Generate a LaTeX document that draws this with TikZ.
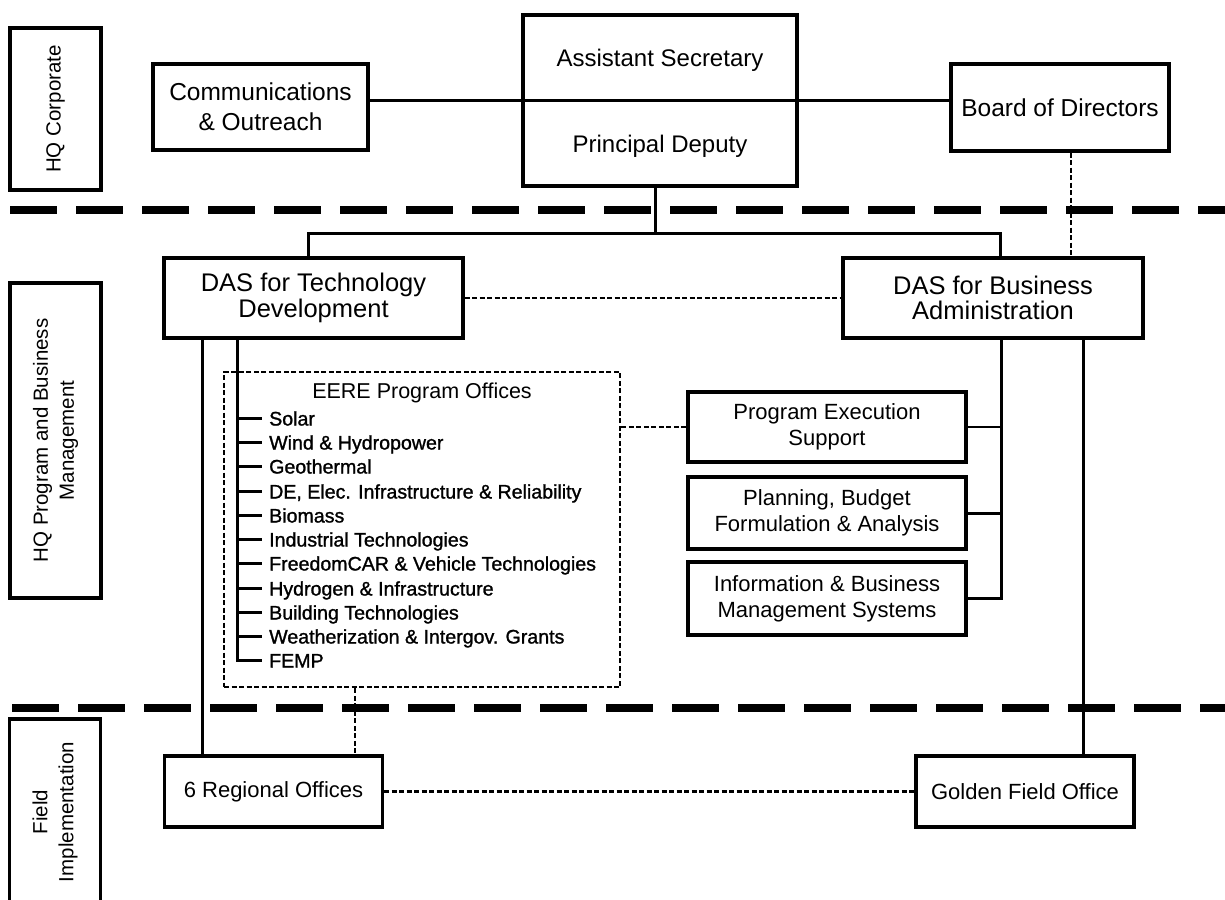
\documentclass[tikz,border=0pt]{standalone}
\usepackage{fontspec}
\setmainfont{Liberation Sans}
\newfontfamily\boldishfont[FakeBold=1.2]{Liberation Sans}
\begin{document}
\begin{tikzpicture}[x=1pt,y=-1pt,
  box/.style={draw, line width=3.4pt, inner sep=0pt, align=center, font=\fontsize{24}{27}\selectfont},
  rbox/.style={box, minimum width=278pt, font=\fontsize{22}{26}\selectfont},
  fbox/.style={box, minimum width=218pt, minimum height=71pt, font=\fontsize{22}{25}\selectfont},
  lbl/.style={draw, line width=3.4pt, inner sep=0pt, minimum width=91pt},
  lbltxt/.style={rotate=90, align=center, inner sep=0pt, font=\fontsize{20.5}{26}\selectfont},
  conn/.style={line width=3pt},
  thinconn/.style={line width=1.5pt},
  fine/.style={line width=2.5pt, dash pattern=on 5pt off 2.5pt},
  sepline/.style={line width=7.5pt, dash pattern=on 47pt off 19pt},
  item/.style={anchor=west, inner sep=0pt, text height=15pt, text depth=0pt, font=\boldishfont\fontsize{19.6}{24}\selectfont},
  plain/.style={inner sep=0pt, font=\fontsize{24}{26}\selectfont}
]
\useasboundingbox (0,0) rectangle (1225,899);

% separators
\draw[sepline] (10,210) -- (1225,210);
\draw[sepline] (12,708) -- (1225,708);

% left labels
\node[lbl, minimum height=162pt] (l1) at (55.5,109) {};
\node[lbltxt] (l1t) at (l1.center) {HQ Corporate};
\node[lbl, minimum height=315pt] (l2) at (55.5,440.5) {};
\node[lbltxt] (l2t) at (l2.center) {HQ Program and Business\\Management};
\node[lbl, minimum height=186pt] (l3) at (55,812) {};
\node[lbltxt] (l3t) at (l3.center) {Field\\Implementation};

% top row
\node[box, minimum width=215pt, minimum height=86pt, font=\fontsize{24.5}{30}\selectfont] (comm) at (260.5,107) {Communications\\\& Outreach};
\node[box, minimum width=274pt, minimum height=171pt] (as) at (660,100.5) {};
\node[plain] (ast) at (660,60) {Assistant Secretary};
\node[plain] (pd) at (660,146) {Principal Deputy};
\node[box, minimum width=218pt, minimum height=87pt, font=\fontsize{24.5}{27}\selectfont] (board) at (1060,107.5) {Board of Directors};

% DAS row
\node[box, minimum width=299pt, minimum height=80pt, font=\fontsize{25.5}{25.5}\selectfont] (tech) at (313.5,298) {DAS for Technology\\Development};
\node[box, minimum width=300pt, minimum height=80pt, font=\fontsize{25.5}{25.5}\selectfont] (bus) at (993,298) {DAS for Business\\Administration};

% right column
\node[rbox, minimum height=70pt] (pes) at (827,427) {Program Execution\\Support};
\node[rbox, minimum height=72pt] (pbfa) at (827,513) {Planning, Budget\\Formulation \& Analysis};
\node[rbox, minimum height=73pt] (ibms) at (827,598.5) {Information \& Business\\Management Systems};

% EERE box
\node[draw, fine, minimum width=396pt, minimum height=315pt, inner sep=0pt] (eere) at (422,529.5) {};
\node[inner sep=0pt, font=\fontsize{21.5}{24}\selectfont] (eeret) at (422,393) {EERE Program Offices};
\node[item] (i1) at (269,418) {Solar};
\node[item] (i2) at (269,442) {Wind \& Hydropower};
\node[item] (i3) at (269,466) {Geothermal};
\node[item] (i4) at (269,491) {DE, Elec. Infrastructure \& Reliability};
\node[item] (i5) at (269,515) {Biomass};
\node[item] (i6) at (269,539) {Industrial Technologies};
\node[item] (i7) at (269,563) {FreedomCAR \& Vehicle Technologies};
\node[item] (i8) at (269,588) {Hydrogen \& Infrastructure};
\node[item] (i9) at (269,612) {Building Technologies};
\node[item] (i10) at (269,636) {Weatherization \& Intergov. Grants};
\node[item] (i11) at (269,660) {FEMP};

% field row
\node[fbox] (reg) at (273.5,791.5) {6 Regional Offices};
\node[fbox] (golden) at (1025,791.5) {Golden Field Office};

% coordinates
\coordinate (j) at (655,233);
\coordinate (tj) at (308,233);
\coordinate (bj) at (1000,233);
\coordinate (bdx) at (1071,0);
\coordinate (tv1) at (202,0);
\coordinate (tv2) at (237,0);
\coordinate (bv1) at (1001,0);
\coordinate (bv2) at (1083,0);
\coordinate (ex) at (355,0);

% solid connectors
\draw[conn] (comm.east |- as.center) -- (board.west |- as.center);
\draw[conn] (as.south -| j) -- (j);
\draw[conn] (tech.north -| tj) -- (tj) -- (bj) -- (bus.north -| bj);
\draw[conn] (tech.south -| tv1) -- (reg.north -| tv1);
\draw[conn] (tech.south -| tv2) |- ([xshift=-7pt]i11.west);
\foreach \k in {1,...,10} {
  \draw[conn] (tv2 |- i\k.west) -- ([xshift=-7pt]i\k.west);
}
\draw[conn] (bus.south -| bv1) |- (ibms.east);
\draw[thinconn] (bv1 |- pes.east) -- (pes.east);
\draw[conn] (bv1 |- pbfa.east) -- (pbfa.east);
\draw[conn] (bus.south -| bv2) -- (golden.north -| bv2);

% dashed connectors
\draw[fine] (board.south -| bdx) -- (bus.north -| bdx);
\draw[fine] (tech.east) -- (bus.west);
\draw[fine] (eere.east |- pes.west) -- (pes.west);
\draw[fine] (eere.south -| ex) -- (reg.north -| ex);
\draw[fine] (reg.east) -- (golden.west);
\end{tikzpicture}
\end{document}
